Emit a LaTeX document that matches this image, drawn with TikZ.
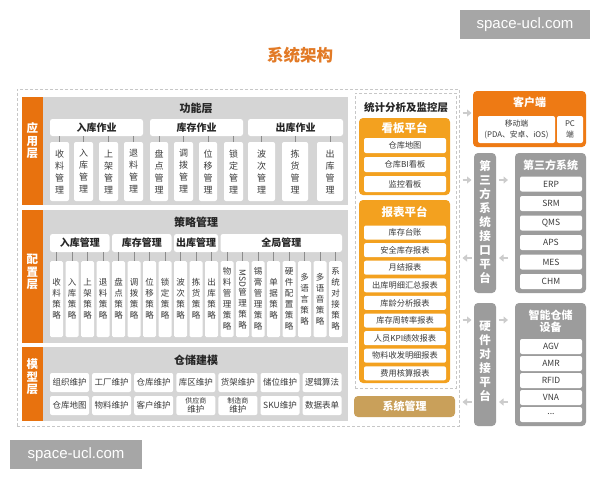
\documentclass[tikz,border=0pt]{standalone}
\usepackage{graphicx}
\usepackage{fontspec}
\setmainfont{Noto Sans CJK SC}
\newfontfamily\wmfont{Liberation Sans}
\usetikzlibrary{arrows.meta}
\definecolor{barC}{HTML}{E8720E}
\definecolor{panelC}{HTML}{D5D5D5}
\definecolor{kanC}{HTML}{F3A11F}
\definecolor{cliC}{HTML}{EE7A14}
\definecolor{rgC}{HTML}{9C9C9C}
\definecolor{smC}{HTML}{C9A05A}
\definecolor{titleC}{HTML}{E27A26}
\definecolor{arrC}{HTML}{CCCCCC}
\definecolor{wmC}{HTML}{A6A6A6}
\definecolor{txtC}{HTML}{3A3A3A}
\newcommand\fsz[1]{\fontsize{#1}{#1}\selectfont}
\newcommand\mydots{...}
\newcommand\mkbox[7]{\node[inner sep=0pt, minimum width={(#4-#2)*1pt}, minimum height={(#5-#3)*1pt}, #6] (#1) at ({(#2+#4)/2},{(#3+#5)/2}) {#7};}
\tikzset{
 panel/.style={fill=panelC},
 obar/.style={fill=barC},
 frame/.style={draw=black!22, dash pattern=on 3pt off 2pt, line width=0.6pt},
 lbltxt/.style={align=center, text=white, font=\bfseries\fontsize{11.5}{12.5}\selectfont, inner sep=0pt},
 ptitle/.style={font=\bfseries\fsz{11}, text=black!85, inner sep=0pt},
 hdrbox/.style={fill=white, rounded corners=2.5pt, font=\bfseries\fsz{10}, text=black!85},
 vbox/.style={fill=white, rounded corners=2pt, align=center, font=\fontsize{9}{12}\selectfont, text=txtC},
 cbox/.style={fill=white, rounded corners=1.5pt, align=center, font=\fontsize{8.5}{11}\selectfont, text=txtC},
 mbox/.style={fill=white, rounded corners=2pt, align=center, font=\fontsize{8.5}{8.5}\selectfont, text=txtC},
 tick/.style={draw=black!45, line width=0.5pt},
 kan/.style={fill=kanC, rounded corners=4pt},
 kanhdr/.style={text=white, font=\bfseries\fsz{11.5}, inner sep=0pt},
 sbox/.style={fill=white, rounded corners=2pt, font=\fsz{8.2}, text=txtC},
 cli/.style={fill=cliC, rounded corners=4pt},
 whdr/.style={text=white, font=\bfseries\fsz{11}, inner sep=0pt, align=center},
 rg/.style={fill=rgC, rounded corners=4pt},
 rbox/.style={fill=white, rounded corners=2pt, font=\fsz{8.5}, text=txtC},
 vwhite/.style={align=center, text=white, font=\bfseries\fontsize{11.5}{14}\selectfont, inner sep=0pt},
 blk/.style={draw=arrC, line width=2.6pt, -{Triangle[width=7pt,length=4.5pt]}},
 wm/.style={fill=wmC, text=white, font=\wmfont\fsz{15}},
}
\begin{document}
\begin{tikzpicture}[x=1pt,y=-1pt]
\useasboundingbox (0,0) rectangle (600,480);
\fill[white] (0,0) rectangle (600,480);

% title
\node[font=\bfseries\fsz{16.5}, text=titleC, inner sep=0pt] (title) at (300,55) {系统架构};

% watermarks
\mkbox{wmA}{460}{10}{590}{39}{wm}{space-ucl.com}
\mkbox{wmB}{10}{440}{142}{469}{wm}{space-ucl.com}

% frames
\mkbox{outer}{17}{89}{459}{426}{frame}{}
\mkbox{statframe}{355}{93}{456}{388}{frame}{}

% ===== application layer =====
\mkbox{barApp}{22}{97}{43}{205}{obar}{}
\node[lbltxt] (tApp) at (32.5,141) {应\\用\\层};
\mkbox{pFun}{43}{97}{348}{205}{panel}{}
\node[ptitle] (tFun) at (196,108) {功能层};
\mkbox{hIn}{50}{119}{143}{136}{hdrbox}{入库作业}
\mkbox{hSt}{150}{119}{243}{136}{hdrbox}{库存作业}
\mkbox{hOut}{248}{119}{343}{136}{hdrbox}{出库作业}
\mkbox{f1}{50}{142}{69}{201}{vbox}{收\\料\\管\\理}
\mkbox{f2}{74}{142}{93}{201}{vbox}{入\\库\\管\\理}
\mkbox{f3}{99}{142}{118}{201}{vbox}{上\\架\\管\\理}
\mkbox{f4}{124}{142}{143}{201}{vbox}{退\\料\\管\\理}
\mkbox{f5}{150}{142}{168}{201}{vbox}{盘\\点\\管\\理}
\mkbox{f6}{174}{142}{193}{201}{vbox}{调\\拨\\管\\理}
\mkbox{f7}{199}{142}{217}{201}{vbox}{位\\移\\管\\理}
\mkbox{f8}{224}{142}{243}{201}{vbox}{锁\\定\\管\\理}
\mkbox{f9}{248}{142}{275}{201}{vbox}{波\\次\\管\\理}
\mkbox{f10}{282}{142}{308}{201}{vbox}{拣\\货\\管\\理}
\mkbox{f11}{317}{142}{343}{201}{vbox}{出\\库\\管\\理}
\foreach \b/\h in {f1/hIn,f2/hIn,f3/hIn,f4/hIn,f5/hSt,f6/hSt,f7/hSt,f8/hSt,f9/hOut,f10/hOut,f11/hOut}
  \draw[tick] (\b.north) -- (\b.north |- \h.south);

% ===== configuration layer =====
\mkbox{barCfg}{22}{210}{43}{343}{obar}{}
\node[lbltxt] (tCfg) at (32.5,272) {配\\置\\层};
\mkbox{pCfg}{43}{210}{348}{343}{panel}{}
\node[ptitle] (tStr) at (196,222) {策略管理};
\mkbox{gIn}{50}{234}{109.5}{252}{hdrbox}{入库管理}
\mkbox{gSt}{112}{234}{171.5}{252}{hdrbox}{库存管理}
\mkbox{gOut}{174}{234}{218}{252}{hdrbox}{出库管理}
\mkbox{gAll}{220.5}{234}{342}{252}{hdrbox}{全局管理}
\foreach \i/\t/\h in {
  0/{收\\料\\策\\略}/gIn, 1/{入\\库\\策\\略}/gIn, 2/{上\\架\\策\\略}/gIn, 3/{退\\料\\策\\略}/gIn,
  4/{盘\\点\\策\\略}/gSt, 5/{调\\拨\\策\\略}/gSt, 6/{位\\移\\策\\略}/gSt, 7/{锁\\定\\策\\略}/gSt,
  8/{波\\次\\策\\略}/gOut, 9/{拣\\货\\策\\略}/gOut, 10/{出\\库\\策\\略}/gOut,
  11/{物\\料\\管\\理\\策\\略}/gAll, 12/{\rotatebox{-90}{MSD}\\管\\理\\策\\略}/gAll,
  13/{锡\\膏\\管\\理\\策\\略}/gAll, 14/{单\\据\\策\\略}/gAll, 15/{硬\\件\\配\\置\\策\\略}/gAll,
  16/{多\\语\\言\\策\\略}/gAll, 17/{多\\语\\音\\策\\略}/gAll, 18/{系\\统\\对\\接\\策\\略}/gAll}{
  \pgfmathsetmacro\xa{50+15.5*\i}
  \pgfmathsetmacro\xb{\xa+13}
  \mkbox{c\i}{\xa}{261}{\xb}{337}{cbox}{\t}
  \draw[tick] (c\i.north) -- (c\i.north |- \h.south);
}

% ===== model layer =====
\mkbox{barMod}{22}{347}{43}{421}{obar}{}
\node[lbltxt] (tMod) at (32.5,377) {模\\型\\层};
\mkbox{pMod}{43}{347}{348}{421}{panel}{}
\node[ptitle] (tMdl) at (196,360) {仓储建模};
\foreach \j/\ta/\tb in {0/组织维护/仓库地图, 1/工厂维护/物料维护, 2/仓库维护/客户维护,
  3/库区维护/{\fsz{7}供应商\\维护}, 4/货架维护/{\fsz{7}制造商\\维护}, 5/储位维护/SKU维护, 6/逻辑算法/数据表单}{
  \pgfmathsetmacro\xa{50+42.1*\j}
  \pgfmathsetmacro\xb{\xa+39}
  \mkbox{mA\j}{\xa}{373}{\xb}{392}{mbox}{\ta}
  \mkbox{mB\j}{\xa}{396}{\xb}{415}{mbox}{\tb}
}

% ===== statistics column =====
\node[font=\bfseries\fsz{10.5}, text=black!85, inner sep=0pt] (tStat) at (406,108) {统计分析及监控层};
\mkbox{kanban}{359}{118}{450}{195}{kan}{}
\node[kanhdr] (tKan) at (404.5,128.5) {看板平台};
\mkbox{k1}{364}{138}{446}{153}{sbox}{仓库地图}
\mkbox{k2}{364}{157}{446}{172}{sbox}{仓库BI看板}
\mkbox{k3}{364}{176}{446}{192}{sbox}{监控看板}
\mkbox{report}{359}{200}{450}{383}{kan}{}
\node[kanhdr] (tRep) at (404.5,212) {报表平台};
\foreach \k/\t in {0/库存台账, 1/安全库存报表, 2/月结报表, 3/出库明细汇总报表, 4/库龄分析报表,
  5/库存周转率报表, 6/人员KPI绩效报表, 7/物料收发明细报表, 8/费用核算报表}{
  \pgfmathsetmacro\ya{225.5+17.6*\k}
  \pgfmathsetmacro\yb{\ya+14}
  \mkbox{r\k}{364}{\ya}{446}{\yb}{sbox}{\t}
}
\mkbox{sysm}{354}{396}{455}{417}{fill=smC, rounded corners=4pt, text=white, font=\bfseries\fsz{11}}{系统管理}

% ===== right column =====
\mkbox{client}{473}{91}{586}{147}{cli}{}
\node[whdr] (tCli) at (529.5,102) {客户端};
\mkbox{mob}{478}{116}{555}{143}{fill=white, rounded corners=2pt, align=center, font=\fontsize{7.8}{10.5}\selectfont, text=txtC}{移动端\\(PDA、安卓、iOS)}
\mkbox{pc}{557}{116}{583}{143}{fill=white, rounded corners=2pt, align=center, font=\fontsize{7.8}{10.5}\selectfont, text=txtC}{PC\\端}

\mkbox{ifc}{474}{153}{496}{293}{rg}{}
\node[vwhite] (tIfc) at (485,222) {第\\三\\方\\系\\统\\接\\口\\平\\台};
\mkbox{third}{515}{153}{586}{293}{rg}{}
\node[whdr] (tThird) at (550.5,165) {第三方系统};
\foreach \k/\t in {0/ERP,1/SRM,2/QMS,3/APS,4/MES,5/CHM}{
  \pgfmathsetmacro\ya{176.5+19.5*\k}
  \pgfmathsetmacro\yb{\ya+15}
  \mkbox{t\k}{520}{\ya}{582}{\yb}{rbox}{\t}
}

\mkbox{hwp}{474}{303}{496}{426}{rg}{}
\node[vwhite] (tHwp) at (485,361) {硬\\件\\对\\接\\平\\台};
\mkbox{dev}{515}{303}{586}{426}{rg}{}
\node[whdr, font=\bfseries\fontsize{11}{12.5}\selectfont] (tDev) at (550.5,321.5) {智能仓储\\设备};
\foreach \k/\t in {0/AGV,1/AMR,2/RFID,3/VNA,4/\mydots}{
  \pgfmathsetmacro\ya{339+17*\k}
  \pgfmathsetmacro\yb{\ya+15}
  \mkbox{d\k}{520}{\ya}{582}{\yb}{rbox}{\t}
}

% ===== small arrows =====
\foreach \n/\y/\d in {a/113/1, b/180/1, c/258/-1, d/320/1, e/402/-1}{
  \coordinate (\n Ls) at ({467-4.5*\d},\y);
  \coordinate (\n Le) at ({467+4.5*\d},\y);
  \draw[blk] (\n Ls) -- (\n Le);
}
\foreach \n/\y/\d in {b/180/1, c/258/-1, d/320/1, e/402/-1}{
  \coordinate (\n Rs) at ({503.5-4.5*\d},\y);
  \coordinate (\n Re) at ({503.5+4.5*\d},\y);
  \draw[blk] (\n Rs) -- (\n Re);
}
\end{tikzpicture}
\end{document}
